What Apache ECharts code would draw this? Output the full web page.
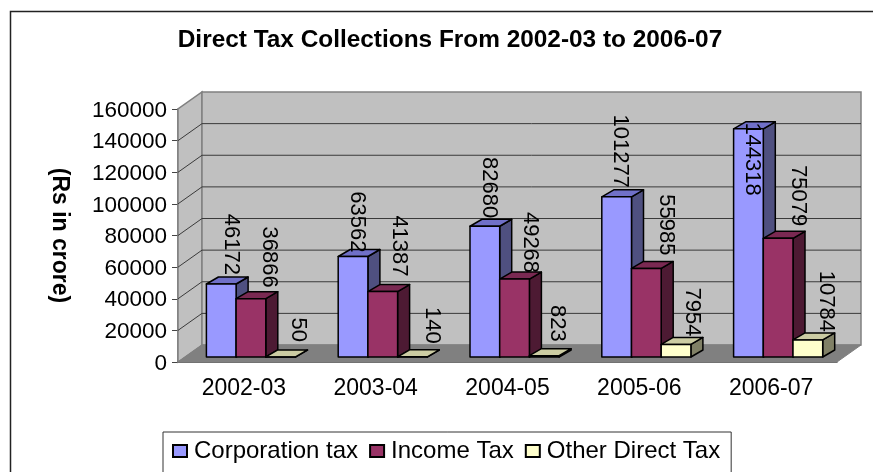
<!DOCTYPE html>
<html>
<head>
<meta charset="utf-8">
<style>
  html, body { margin: 0; padding: 0; background: #fff; }
  #chart { width: 873px; height: 472px; }
</style>
<script src="https://cdn.jsdelivr.net/npm/echarts@6/dist/echarts.min.js"></script>
</head>
<body>
<div id="chart"></div>
<script>
// Direct tax collections, Rs in crore
const years = ['2002-03', '2003-04', '2004-05', '2005-06', '2006-07'];
const corporationTax = [46172, 63562, 82680, 101277, 144318];
const incomeTax = [36866, 41387, 49268, 55985, 75079];
const otherDirectTax = [50, 140, 823, 7954, 10784];
const valueTicks = [20000, 40000, 60000, 80000, 100000, 120000, 140000, 160000];

// Hand-placed value labels: sideways shift and lift relative to each bar's top
const corporationLabelShift = [10, 4, 4, 3, 4];
const corporationLabelLift = [9, 4, 8, 9, -67];
const incomeLabelShift = [18, 16, 16, 20, 20];
const incomeLabelLift = [11, 15, 6, 13, 12];
const otherLabelShift = [17, 20, 13, 16, 18];
const otherLabelLift = [15, 13, 14, 8, 8];

// Oblique projection of the chart box and of the bars inside it
const WALL_DX = 24, WALL_DY = 17;
const BAR_FRONT_DX = 0, BAR_FRONT_DY = 5;
const BAR_DX = 12, BAR_DY = 7;
const BAR_WIDTH = 29.7, GROUP_INSET = 28.4;

const FONT = '"Liberation Sans", Arial, sans-serif';
const VALUE_FONT = '22px ' + FONT;

function wallsRenderer(params, api) {
  const box = params.coordSys;
  const left = box.x, right = box.x + box.width, base = box.y + box.height, top = box.y;
  const v = api.value(0);
  const y = api.coord([0, v])[1];
  const children = [];
  if (params.dataIndex === 0) {
    children.push({
      type: 'polygon',
      shape: { points: [[left, base], [left + WALL_DX, base - WALL_DY], [left + WALL_DX, top - WALL_DY], [left, top]] },
      style: { fill: '#c0c0c0', stroke: '#808080', lineWidth: 1.5 }
    });
    children.push({
      type: 'rect',
      shape: { x: left + WALL_DX, y: top - WALL_DY, width: box.width, height: box.height },
      style: { fill: '#c0c0c0', stroke: '#808080', lineWidth: 1.5 }
    });
    children.push({
      type: 'polygon',
      shape: { points: [[left, base], [right, base], [right + WALL_DX, base - WALL_DY], [left + WALL_DX, base - WALL_DY]] },
      style: { fill: '#808080', stroke: '#808080', lineWidth: 1 }
    });
  }
  if (v < 160000) {
    children.push({
      type: 'polyline',
      shape: { points: [[left, y], [left + WALL_DX, y - WALL_DY], [right + WALL_DX, y - WALL_DY]] },
      style: { fill: 'none', stroke: '#3a3a3a', lineWidth: 1 }
    });
  }
  return { type: 'group', children: children };
}

function barRenderer(slot, shades, shifts, lifts) {
  return function (params, api) {
    const cat = api.value(0), val = api.value(1);
    const band = api.size([1, 0])[0];
    const origin = api.coord([cat, 0]);
    const tip = api.coord([cat, val]);
    const x0 = origin[0] - band / 2 + GROUP_INSET + slot * BAR_WIDTH + BAR_FRONT_DX;
    const x1 = x0 + BAR_WIDTH;
    const yb = origin[1] - BAR_FRONT_DY;
    const yt = tip[1] - BAR_FRONT_DY;
    const edge = { stroke: '#000', lineWidth: 1.5, lineJoin: 'round' };
    return {
      type: 'group',
      children: [
        { type: 'polygon', shape: { points: [[x1, yb], [x1 + BAR_DX, yb - BAR_DY], [x1 + BAR_DX, yt - BAR_DY], [x1, yt]] },
          style: Object.assign({ fill: shades.side }, edge) },
        { type: 'polygon', shape: { points: [[x0, yt], [x0 + BAR_DX, yt - BAR_DY], [x1 + BAR_DX, yt - BAR_DY], [x1, yt]] },
          style: Object.assign({ fill: shades.top }, edge) },
        { type: 'rect', shape: { x: x0, y: yt, width: BAR_WIDTH, height: yb - yt },
          style: Object.assign({ fill: shades.front }, edge) },
        { type: 'text', z2: 100, rotation: -Math.PI / 2,
          x: x0 + BAR_WIDTH / 2 + shifts[params.dataIndex],
          y: yt - lifts[params.dataIndex],
          style: { text: String(val), font: VALUE_FONT, fill: '#000', align: 'right', verticalAlign: 'middle' } }
      ]
    };
  };
}

function barSeries(name, values, slot, shades, shifts, lifts) {
  return {
    name: name,
    type: 'custom',
    z: 3,
    silent: true,
    clip: false,
    encode: { x: 0, y: 1 },
    itemStyle: { color: shades.front, borderColor: '#000', borderWidth: 1.5 },
    renderItem: barRenderer(slot, shades, shifts, lifts),
    data: values.map(function (v, i) { return [i, v]; })
  };
}

const chart = echarts.init(document.getElementById('chart'), null, { renderer: 'canvas' });
chart.setOption({
  animation: false,
  backgroundColor: '#fff',
  title: {
    text: 'Direct Tax Collections From 2002-03 to 2006-07',
    left: 445, top: 23, textAlign: 'center',
    textStyle: { fontFamily: FONT, fontSize: 24.4, fontWeight: 'bold', color: '#000' }
  },
  legend: {
    data: ['Corporation tax', 'Income Tax', 'Other Direct Tax'],
    left: 163, top: 432,
    padding: [7, 11, 24, 9],
    itemWidth: 14, itemHeight: 12, itemGap: 11,
    icon: 'rect',
    borderColor: '#333', borderWidth: 1,
    selectedMode: false,
    textStyle: { fontFamily: FONT, fontSize: 24, color: '#000', padding: [0, 0, 0, 2] }
  },
  grid: { left: 178, right: 36, top: 109, bottom: 110, containLabel: false },
  xAxis: {
    type: 'category',
    data: years,
    axisLine: { lineStyle: { color: '#333', width: 1.5 } },
    axisTick: { length: 6, alignWithLabel: false, lineStyle: { color: '#333' } },
    axisLabel: { fontFamily: FONT, fontSize: 23, color: '#000', margin: 15 }
  },
  yAxis: {
    type: 'value',
    min: 0, max: 160000, interval: 20000,
    name: '(Rs in crore)',
    nameLocation: 'middle',
    nameRotate: -90,
    nameGap: 107,
    nameTextStyle: { fontFamily: FONT, fontSize: 23, fontWeight: 'bold', color: '#000' },
    axisLine: { show: true, lineStyle: { color: '#666', width: 1.5 } },
    axisTick: { show: true, length: 6, lineStyle: { color: '#444' } },
    axisLabel: { fontFamily: FONT, fontSize: 22.5, color: '#000', margin: 11,
      verticalAlign: 'top', padding: [-10, 0, 0, 0],
      formatter: function (v) { return String(v); } },
    splitLine: { show: false }
  },
  graphic: [
    { type: 'polyline', silent: true, z: 10,
      shape: { points: [[10.5, 472], [10.5, 11.5], [873, 11.5]] },
      style: { fill: 'none', stroke: '#222', lineWidth: 1.5 } }
  ],
  series: [
    {
      name: 'walls', type: 'custom', z: 1, silent: true, clip: false,
      encode: { y: 0 },
      renderItem: wallsRenderer,
      data: valueTicks.map(function (v) { return [v]; })
    },
    barSeries('Corporation tax', corporationTax, 0,
      { front: '#9999ff', top: '#7070c8', side: '#4f5080' }, corporationLabelShift, corporationLabelLift),
    barSeries('Income Tax', incomeTax, 1,
      { front: '#993366', top: '#7a2952', side: '#4d1a33' }, incomeLabelShift, incomeLabelLift),
    barSeries('Other Direct Tax', otherDirectTax, 2,
      { front: '#ffffcc', top: '#cccca3', side: '#808066' }, otherLabelShift, otherLabelLift)
  ]
});
</script>
</body>
</html>
